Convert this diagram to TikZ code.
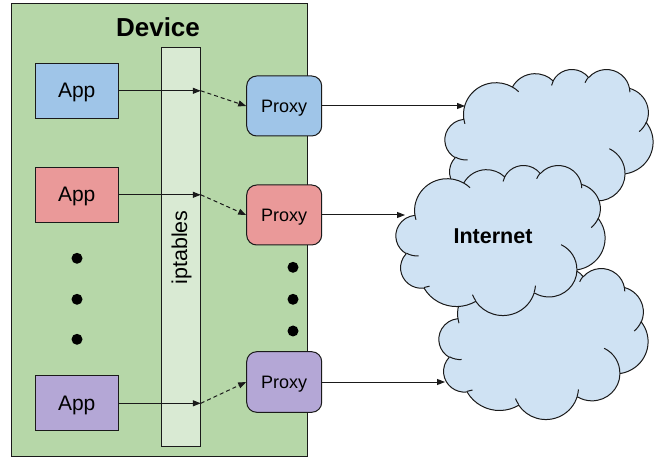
\documentclass[tikz,border=0pt]{standalone}
\usepackage{fontspec}
\setmainfont{Liberation Sans}
\usetikzlibrary{arrows.meta}

\definecolor{devgreen}{HTML}{B6D7A8}
\definecolor{iptgreen}{HTML}{D9EAD3}
\definecolor{appblue}{HTML}{9FC5E8}
\definecolor{appred}{HTML}{EA9999}
\definecolor{apppurple}{HTML}{B4A7D6}
\definecolor{cloudblue}{HTML}{CFE2F3}
\definecolor{edge}{HTML}{1A1A1A}

\tikzset{
  % elliptical arc given by radii and visual start/sweep angles
  varc/.code args={#1/#2/#3/#4}{%
    \pgfmathsetmacro\vA{atan2((#1)*sin(#3),(#2)*cos(#3))}%
    \pgfmathsetmacro\vB{atan2((#1)*sin((#3)+(#4)),(#2)*cos((#3)+(#4)))}%
    \pgfmathsetmacro\vD{mod(\vB-\vA+540,360)-180}%
    \edef\vtmp{\noexpand\tikzset{insert path={arc[start angle=\vA, delta angle=\vD, x radius=#1, y radius=#2]}}}%
    \vtmp},
  appbox/.style={draw=edge, line width=1pt, minimum width=83pt, minimum height=55pt,
    inner sep=0pt, text height=15pt, text depth=1pt, font=\fontsize{21}{25}\selectfont},
  proxybox/.style={draw=edge, line width=1pt, rounded corners=10pt, minimum width=75pt,
    minimum height=60pt, inner sep=0pt, text height=13pt, text depth=0pt,
    font=\fontsize{18}{22}\selectfont},
  dotnode/.style={circle, fill=black, minimum size=11pt, inner sep=0pt},
  link/.style={draw=edge, line width=1pt, -{Triangle[length=8pt,width=6pt]}},
  hop/.style={link, dash pattern=on 4pt off 3pt},
  cloudline/.style={draw=edge, line width=1pt, line join=round},
}

% cloud outline in a 43.2 x 43.2 box; #1,#2 top-left corner, #3,#4 unit vectors
\newcommand\gcloud[4]{%
  \begin{scope}[shift={(#1,#2)}, x=#3, y=#4]
    \path[cloudline, fill=cloudblue] (3.9,14.37)
      [varc=6.753/9.19/-190.4875/123.7805]
      [varc=5.333/7.267/-144.1024/89.9452]
      [varc=4.365/5.945/-145.8079/99.7230]
      [varc=4.857/6.595/-130.9861/117.2417]
      [varc=5.333/7.273/-78.7089/109.0269]
      [varc=6.775/9.22/-46.2673/130.269]
      [varc=5.785/7.867/0.625/114.0333]
      [varc=6.752/9.215/22.4516/115.1726]
      [varc=7.72/10.543/66.2426/75.711]
      [varc=4.36/5.918/-274.9421/146.7356]
      [varc=4.345/5.945/-246.8285/152.5226] -- cycle;
    \path[cloudline]
      (4.693,26.177) [varc=4.345/5.945/86.742/26.4295]
      (6.928,34.899) [varc=4.36/5.918/73.6105/11.4475]
      (16.478,39.09) [varc=6.752/9.215/137.6242/14.0811]
      (28.827,34.751) [varc=6.752/9.215/6.4533/15.9984]
      (34.129,22.954) [varc=5.785/7.867/-70.2924/70.9174]
      (41.798,15.354) [varc=5.333/7.273/30.318/27.7515]
      (38.324,5.426) [varc=4.857/6.595/-13.7443/14.8589]
      (29.078,3.952) [varc=4.857/6.595/-149.1815/18.1954]
      (22.141,4.72) [varc=4.365/5.945/-163.4943/17.6864]
      (14,5.192) [varc=6.753/9.19/-66.707/12.3194]
      (4.127,15.789) [varc=6.753/9.19/157.6544/11.8582];
  \end{scope}}

\begin{document}
\begin{tikzpicture}[x=1pt, y=-1pt]
  \useasboundingbox (0,0) rectangle (662,457);

  % device frame and filter bar
  \node[draw=edge, line width=1pt, fill=devgreen, minimum width=296pt, minimum height=452pt,
        inner sep=0pt] (device) at (159,230) {};
  \node[font=\bfseries\fontsize{26}{30}\selectfont] (devtitle) at (158,27) {Device};
  \node[draw=edge, line width=1pt, fill=iptgreen, minimum width=38.6pt, minimum height=398.6pt,
        inner sep=0pt] (ipt) at (181,247) {};
  \node[rotate=90, font=\fontsize{21.5}{25}\selectfont] (iptlabel) at (181.5,247.5) {iptables};

  % applications
  \node[appbox, fill=appblue] (appA) at (76.7,90.8) {App};
  \node[appbox, fill=appred] (appB) at (76.7,194.8) {App};
  \node[appbox, fill=apppurple] (appC) at (76.7,403.3) {App};

  % proxies
  \node[proxybox, fill=appblue] (proxyA) at (284.2,106) {Proxy};
  \node[proxybox, fill=appred] (proxyB) at (284.2,215) {Proxy};
  \node[proxybox, fill=apppurple, minimum height=60.6pt] (proxyC) at (284.2,382) {Proxy};

  % ellipsis dots
  \node[dotnode] (ldotA) at (77,258.3) {};
  \node[dotnode] (ldotB) at (77,299.3) {};
  \node[dotnode] (ldotC) at (77,339.3) {};
  \node[dotnode] (rdotA) at (293,267.3) {};
  \node[dotnode] (rdotB) at (293,299.3) {};
  \node[dotnode] (rdotC) at (293,331) {};

  % clouds
  \gcloud{445}{69}{4.8148pt}{-3.4722pt}
  \gcloud{439}{268}{4.8380pt}{-3.4954pt}
  \gcloud{396}{165}{4.8380pt}{-3.4722pt}
  \node[minimum width=208pt, minimum height=150pt, inner sep=0pt] (cloudA) at (549,144) {};
  \node[minimum width=209pt, minimum height=150pt, inner sep=0pt] (cloudB) at (500.5,240) {};
  \node[minimum width=209pt, minimum height=151pt, inner sep=0pt] (cloudC) at (543.5,343.5) {};
  \node[font=\bfseries\fontsize{21.5}{25}\selectfont] (inetlabel) at (493,236) {Internet};

  \coordinate (inA) at (465,106);
  \coordinate (inB) at (405,215);
  \coordinate (inC) at (445,382);

  % traffic through the filter
  \foreach \a/\p in {appA/proxyA, appB/proxyB, appC/proxyC} {
    \draw[link] (\a) -- (\a -| ipt.east);
    \draw[hop] (\a -| ipt.east) -- (\p.west);
  }

  % proxies to the internet
  \draw[link] (proxyA) -- (proxyA -| inA);
  \draw[link] (proxyB) -- (proxyB -| inB);
  \draw[link] (proxyC) -- (proxyC -| inC);
\end{tikzpicture}
\end{document}
